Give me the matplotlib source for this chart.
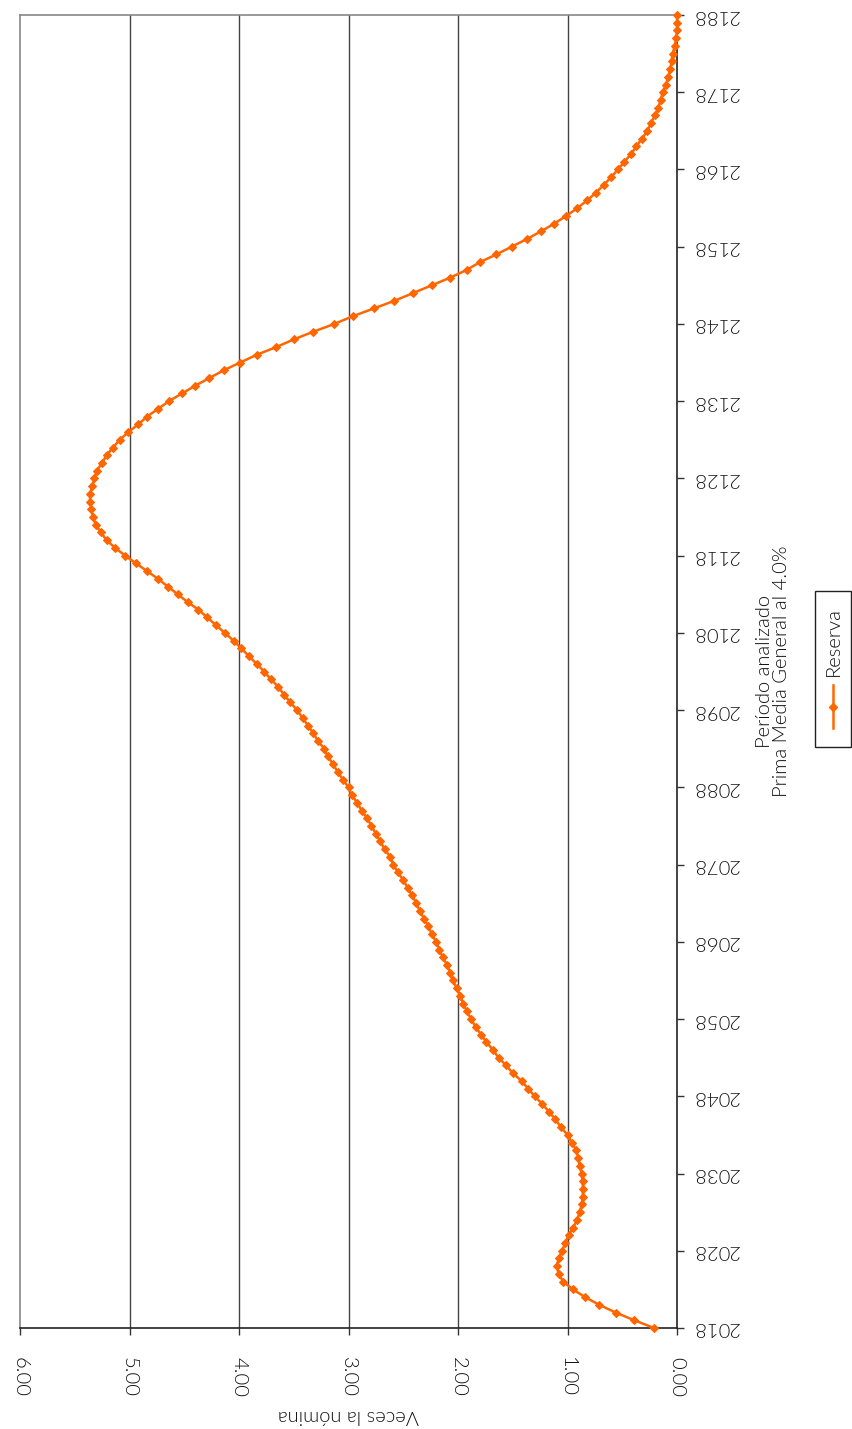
import numpy as np
import matplotlib
matplotlib.use("Agg")
import matplotlib.pyplot as plt
from matplotlib.lines import Line2D
from matplotlib.patches import Rectangle

plt.rcParams['font.family'] = ['Lato', 'DejaVu Sans']
plt.rcParams['font.weight'] = 300

# Reserva en veces la nómina, un valor por año 2018-2188
years = np.arange(2018, 2189)
reserva = [
    0.21, 0.39, 0.56, 0.71, 0.84, 0.95, 1.04, 1.08, 1.10, 1.08,   # 2018-2027
    1.05, 1.02, 0.99, 0.95, 0.91, 0.89, 0.87, 0.86, 0.86, 0.86,   # 2028-2037
    0.87, 0.89, 0.90, 0.92, 0.96, 1.00, 1.06, 1.11, 1.17, 1.23,   # 2038-2047
    1.30, 1.36, 1.42, 1.50, 1.56, 1.63, 1.68, 1.74, 1.79, 1.84,   # 2048-2057
    1.88, 1.92, 1.95, 1.98, 2.01, 2.05, 2.07, 2.10, 2.14, 2.17,   # 2058-2067
    2.20, 2.24, 2.27, 2.31, 2.35, 2.38, 2.42, 2.46, 2.50, 2.55,   # 2068-2077
    2.59, 2.62, 2.67, 2.71, 2.75, 2.79, 2.83, 2.88, 2.92, 2.97,   # 2078-2087
    3.00, 3.05, 3.10, 3.14, 3.19, 3.22, 3.28, 3.32, 3.37, 3.42,   # 2088-2097
    3.47, 3.53, 3.59, 3.64, 3.71, 3.77, 3.84, 3.91, 3.98, 4.05,   # 2098-2107
    4.13, 4.21, 4.29, 4.37, 4.47, 4.56, 4.65, 4.74, 4.84, 4.94,   # 2108-2117
    5.04, 5.13, 5.21, 5.26, 5.31, 5.33, 5.35, 5.36, 5.36, 5.34,   # 2118-2127
    5.32, 5.30, 5.25, 5.21, 5.15, 5.09, 5.01, 4.92, 4.84, 4.74,   # 2128-2137
    4.64, 4.52, 4.40, 4.27, 4.14, 3.99, 3.84, 3.66, 3.50, 3.32,   # 2138-2147
    3.13, 2.96, 2.77, 2.58, 2.41, 2.24, 2.07, 1.92, 1.80, 1.65,   # 2148-2157
    1.51, 1.37, 1.24, 1.12, 1.01, 0.91, 0.82, 0.74, 0.67, 0.60,   # 2158-2167
    0.54, 0.48, 0.42, 0.37, 0.32, 0.27, 0.24, 0.20, 0.17, 0.15,   # 2168-2177
    0.13, 0.10, 0.08, 0.06, 0.05, 0.04, 0.02, 0.01, 0.00, 0.00,   # 2178-2187
    0.00,                                                         # 2188
]
year_ticks = np.arange(2018, 2189, 10)
value_ticks = [0, 1, 2, 3, 4, 5, 6]
value_labels = ['%.2f' % v for v in value_ticks]

text_color = '#111111'
orange = '#FF6600'
fs = 14.5

fig = plt.figure(figsize=(8.52, 14.29), dpi=100)
W, H = 852, 1429
ax = fig.add_axes([20 / W, 1 - 1328 / H, 657 / W, 1313 / H])

ax.plot(reserva, years, color=orange, lw=1.8, marker='D', markersize=3.8,
        markeredgewidth=0.8, markeredgecolor=orange, clip_on=False, zorder=3)

ax.set_xlim(6, 0)
ax.set_ylim(2018, 2188)

# valores (eje horizontal, girado)
ax.set_xticks(value_ticks)
ax.set_xticklabels(value_labels, rotation=270, fontsize=fs, color=text_color)
ax.tick_params(axis='x', direction='out', length=5, width=1, color='#333333', pad=16)

# años (eje vertical a la derecha, texto invertido)
ax.yaxis.tick_right()
ax.set_yticks(year_ticks)
ax.set_yticklabels([str(y) for y in year_ticks], rotation=180, fontsize=fs,
                   color=text_color, va='center')
ax.tick_params(axis='y', direction='out', length=5, width=1, color='#333333', pad=6)

for v in value_ticks[1:-1]:
    ax.axvline(v, color='#444444', lw=1.0, zorder=1)

ax.spines['left'].set_color('#888888')
ax.spines['top'].set_color('#888888')
ax.spines['right'].set_color('#222222')
ax.spines['bottom'].set_color('#222222')
for s in ax.spines.values():
    s.set_linewidth(1.2)

fig.text(348.5 / W, 1 - 1415 / H, 'Veces la nómina', rotation=180,
         ha='center', va='center', fontsize=fs, color=text_color)
fig.text(773 / W, 1 - 671 / H, 'Período analizado\nPrima Media General al 4.0%',
         rotation=90, ha='center', va='center', multialignment='center',
         fontsize=fs, color=text_color, linespacing=1.0)

# leyenda
fig.patches.append(Rectangle((815 / W, 1 - 747 / H), 36 / W, 156 / H,
                             transform=fig.transFigure, fill=False,
                             edgecolor='#222222', lw=1.0))
fig.lines.append(Line2D([833 / W, 833 / W], [1 - 728 / H, 1 - 685 / H],
                        transform=fig.transFigure, color=orange, lw=1.8))
fig.lines.append(Line2D([833 / W], [1 - 707 / H], transform=fig.transFigure,
                        color=orange, marker='D', markersize=3.8))
fig.text(833 / W, 1 - 642 / H, 'Reserva', rotation=90, ha='center', va='center',
         fontsize=fs, color=text_color)

fig.savefig('out.png', dpi=100)
